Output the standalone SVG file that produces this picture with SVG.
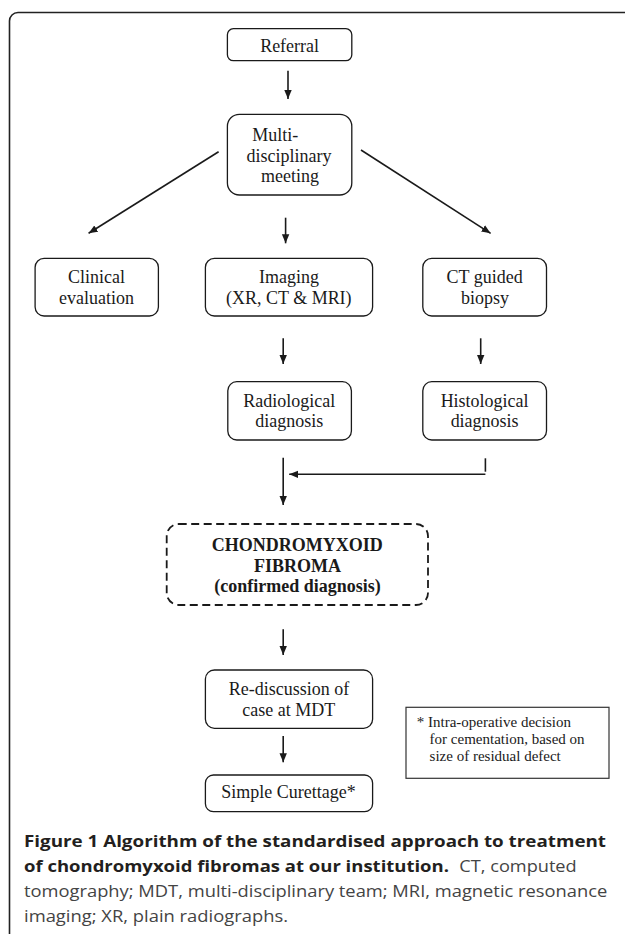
<svg xmlns="http://www.w3.org/2000/svg" width="625" height="934" viewBox="0 0 625 934">
<defs>
<marker id="ah" markerUnits="userSpaceOnUse" markerWidth="10" markerHeight="9" refX="9" refY="4.5" orient="auto">
<path d="M0,0.8 L9,4.5 L0,8.2 z" fill="#1a1a1a"/>
</marker>
<style>
.box{fill:#fff;stroke:#1a1a1a;stroke-width:1.3}
.dbox{fill:#fff;stroke:#1a1a1a;stroke-width:1.8;stroke-dasharray:8 4.5}
.note{fill:#fff;stroke:#333;stroke-width:1.2}
.t{font-family:"Liberation Serif","Times New Roman",serif;font-size:19px;fill:#1a1a1a;text-anchor:middle}
.tb{font-family:"Liberation Serif","Times New Roman",serif;font-size:18px;font-weight:bold;fill:#1a1a1a;text-anchor:middle}
.tn{font-family:"Liberation Serif","Times New Roman",serif;font-size:15px;fill:#1a1a1a}
.c{stroke:#1a1a1a;stroke-width:1.6;fill:none}
.cap{font-family:"Open Sans","Noto Sans","Liberation Sans",sans-serif;font-size:16.5px}
.capb{font-weight:bold;fill:#231f20}
.capr{fill:#444}
</style>
</defs>
<rect width="625" height="934" fill="#fff"/>
<path d="M9.5,940 V21 A8.5,8.5 0 0 1 18,12.5 H630" fill="none" stroke="#222" stroke-width="1.6"/>

<g id="referral">
<rect class="box" x="227.4" y="28.7" width="124.4" height="32" rx="6"/>
<text class="t" transform="matrix(0.947 0 0 1 289.6 52)">Referral</text>
</g>
<g id="mdm">
<rect class="box" x="227.4" y="114.3" width="124.4" height="80.7" rx="12"/>
<text class="t" transform="matrix(0.947 0 0 1 275.2 140.7)">Multi-</text>
<text class="t" transform="matrix(0.947 0 0 1 289 161.5)">disciplinary</text>
<text class="t" transform="matrix(0.947 0 0 1 290 182.3)">meeting</text>
</g>
<g id="clinical">
<rect class="box" x="35.1" y="258.3" width="123.3" height="57.7" rx="9"/>
<text class="t" transform="matrix(0.947 0 0 1 96.5 283.3)">Clinical</text>
<text class="t" transform="matrix(0.947 0 0 1 96.5 304.3)">evaluation</text>
</g>
<g id="imaging">
<rect class="box" x="205.4" y="258.3" width="167.2" height="57.7" rx="9"/>
<text class="t" transform="matrix(0.947 0 0 1 289 283.3)">Imaging</text>
<text class="t" transform="matrix(0.947 0 0 1 288.8 304.3)">(XR, CT &amp; MRI)</text>
</g>
<g id="ctbiopsy">
<rect class="box" x="422.8" y="258.3" width="123.7" height="57.7" rx="9"/>
<text class="t" transform="matrix(0.947 0 0 1 484.6 283.3)">CT guided</text>
<text class="t" transform="matrix(0.947 0 0 1 485 304.3)">biopsy</text>
</g>
<g id="radiological">
<rect class="box" x="227.8" y="381.7" width="123.6" height="58.3" rx="9"/>
<text class="t" transform="matrix(0.947 0 0 1 289.3 406.7)">Radiological</text>
<text class="t" transform="matrix(0.947 0 0 1 289.3 427)">diagnosis</text>
</g>
<g id="histological">
<rect class="box" x="422.8" y="381.7" width="123.7" height="58.3" rx="9"/>
<text class="t" transform="matrix(0.947 0 0 1 484.6 406.7)">Histological</text>
<text class="t" transform="matrix(0.947 0 0 1 484.6 427)">diagnosis</text>
</g>
<g id="cmf">
<rect class="dbox" x="166.7" y="524" width="261.3" height="81" rx="12"/>
<text class="tb" x="297.3" y="551">CHONDROMYXOID</text>
<text class="tb" x="297.6" y="571.7">FIBROMA</text>
<text class="tb" x="297.6" y="592">(confirmed diagnosis)</text>
</g>
<g id="rediscussion">
<rect class="box" x="205.4" y="670" width="167.2" height="58.3" rx="9"/>
<text class="t" transform="matrix(0.947 0 0 1 289 695)">Re-discussion of</text>
<text class="t" transform="matrix(0.947 0 0 1 288.8 715.7)">case at MDT</text>
</g>
<g id="curettage">
<rect class="box" x="205.4" y="775" width="167.2" height="36.7" rx="8"/>
<text class="t" transform="matrix(0.947 0 0 1 288.5 797.5)">Simple Curettage*</text>
</g>
<g id="footnote">
<rect class="note" x="406" y="707.3" width="203" height="71"/>
<text class="tn" x="416.8" y="727.3">* Intra-operative decision</text>
<text class="tn" x="429.6" y="744">for cementation, based on</text>
<text class="tn" x="429.6" y="761">size of residual defect</text>
</g>

<g id="connectors">
<line class="c" x1="288" y1="70.7" x2="288" y2="99" marker-end="url(#ah)"/>
<line class="c" x1="218.6" y1="151.7" x2="88.6" y2="233.3" marker-end="url(#ah)"/>
<line class="c" x1="285.6" y1="217.7" x2="285.6" y2="243.3" marker-end="url(#ah)"/>
<line class="c" x1="361" y1="150" x2="490.6" y2="233.3" marker-end="url(#ah)"/>
<line class="c" x1="283.2" y1="338.3" x2="283.2" y2="364" marker-end="url(#ah)"/>
<line class="c" x1="480.7" y1="338.3" x2="480.7" y2="364" marker-end="url(#ah)"/>
<line class="c" x1="283.2" y1="457.7" x2="283.2" y2="505" marker-end="url(#ah)"/>
<line class="c" x1="485.4" y1="458.3" x2="485.4" y2="471.7"/>
<line class="c" x1="485.4" y1="474.3" x2="289.2" y2="474.3" marker-end="url(#ah)"/>
<line class="c" x1="283.2" y1="629.3" x2="283.2" y2="655" marker-end="url(#ah)"/>
<line class="c" x1="283.2" y1="736" x2="283.2" y2="762.3" marker-end="url(#ah)"/>
</g>

<g id="caption" class="cap">
<text x="24" y="846.7" class="capb" textLength="582" lengthAdjust="spacingAndGlyphs">Figure 1 Algorithm of the standardised approach to treatment</text>
<text x="24" y="871.7" class="capb" textLength="425" lengthAdjust="spacingAndGlyphs">of chondromyxoid fibromas at our institution.</text>
<text x="459.3" y="871.7" class="capr" textLength="117.4" lengthAdjust="spacingAndGlyphs">CT, computed</text>
<text x="24" y="896.7" class="capr" textLength="583.3" lengthAdjust="spacingAndGlyphs">tomography; MDT, multi-disciplinary team; MRI, magnetic resonance</text>
<text x="24" y="921.7" class="capr" textLength="264" lengthAdjust="spacingAndGlyphs">imaging; XR, plain radiographs.</text>
</g>
</svg>
